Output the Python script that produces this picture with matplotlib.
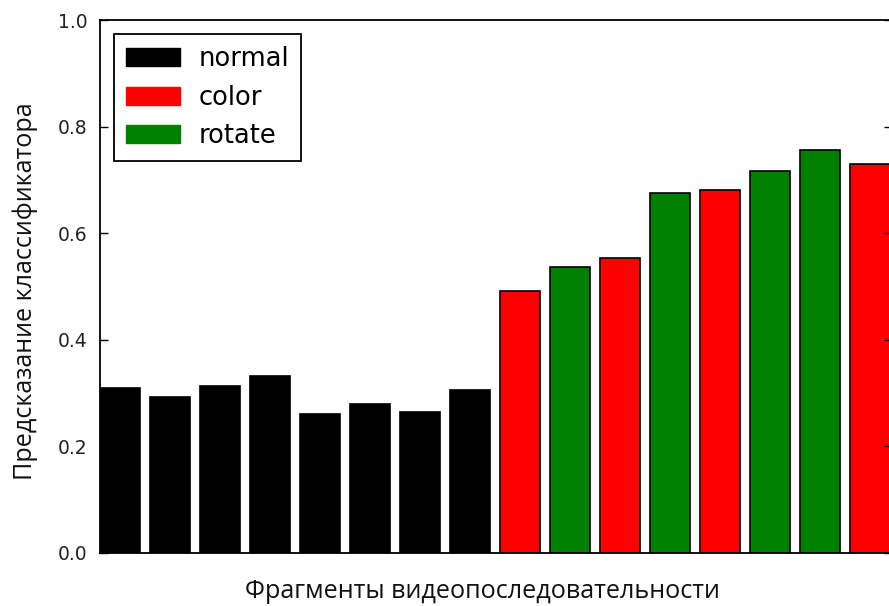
import matplotlib
matplotlib.use("Agg")
import matplotlib.pyplot as plt
from matplotlib.patches import Patch

# Data
groups = ["normal"] * 8 + ["color", "rotate", "color", "rotate", "color", "rotate", "rotate", "color"]
values = [0.309, 0.293, 0.313, 0.332, 0.261, 0.280, 0.264, 0.306,
          0.492, 0.537, 0.553, 0.675, 0.681, 0.717, 0.756, 0.730]
legend_labels = ["normal", "color", "rotate"]
group_colors = {"normal": "#000000", "color": "#ff0000", "rotate": "#008000"}
yticks = [0.0, 0.2, 0.4, 0.6, 0.8, 1.0]

W, H, DPI = 889, 606, 100
fig = plt.figure(figsize=(W / DPI, H / DPI), dpi=DPI)
ax = fig.add_axes([100 / W, (H - 553) / H, 792 / W, 533 / H])

x = list(range(len(values)))
colors = [group_colors[g] for g in groups]
ax.bar(x, values, width=0.8, align="edge", color=colors, edgecolor="black", linewidth=1.2)

ax.set_xlim(0, 15.84)
ax.set_ylim(0, 1.0)
ax.set_xticks([])
ax.set_yticks(yticks)
ax.set_yticklabels([f"{t:.1f}" for t in yticks], fontsize=13.5, color="#222222")
ax.tick_params(axis="y", direction="in", length=6, width=1, right=True, pad=9)
for s in ax.spines.values():
    s.set_linewidth(1.3)

ax.set_xlabel("Фрагменты видеопоследовательности", fontsize=18.1,
              family=["Open Sans", "DejaVu Sans"], labelpad=19, color="#111111")
ax.xaxis.label.set_x(0.483)
ax.set_ylabel("Предсказание классификатора", fontsize=18.1,
              family=["Open Sans", "DejaVu Sans"], labelpad=14, color="#111111")
ax.yaxis.label.set_y(0.492)

handles = [Patch(facecolor=group_colors[k], edgecolor=group_colors[k]) for k in legend_labels]
leg = ax.legend(handles, legend_labels, loc="upper left", fontsize=18.5,
                handlelength=2.1, handleheight=0.7, labelspacing=0.5,
                borderaxespad=0.55, borderpad=0.45, handletextpad=0.75,
                fancybox=False, framealpha=1.0, edgecolor="black")
leg.get_frame().set_linewidth(1.3)

fig.savefig("out.png", dpi=DPI)
